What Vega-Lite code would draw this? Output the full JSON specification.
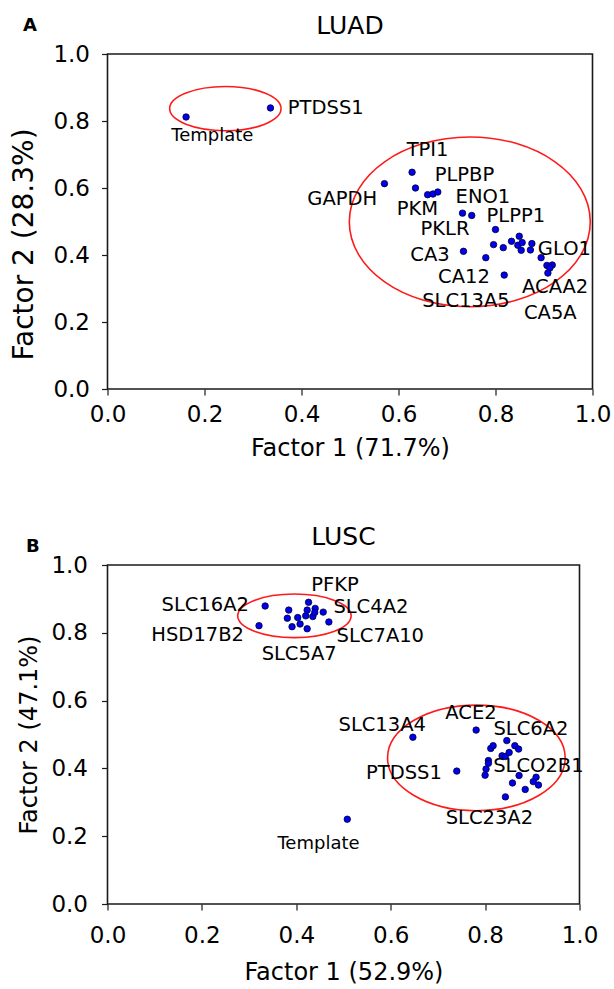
{
  "$schema": "https://vega.github.io/schema/vega-lite/v6.json",
  "padding": {"left": 9.5, "top": 13, "right": 5, "bottom": 0},
  "background": "white",
  "config": {
    "font": "DejaVu Sans",
    "view": {"stroke": "#1a1a1a", "strokeWidth": 1.6},
    "axis": {
      "domain": false, "grid": false,
      "tickColor": "#1a1a1a", "tickSize": 6, "tickWidth": 1.2,
      "labelColor": "#000", "titleColor": "#000",
      "labelFont": "DejaVu Sans", "titleFont": "DejaVu Sans",
      "labelFontSize": 23, "titleFontWeight": "normal",
      "labelFlush": false, "labelOverlap": false
    },
    "title": {"font": "DejaVu Sans", "fontWeight": "normal", "color": "#000"}
  },
  "bounds": "flush",
  "spacing": 511,
  "vconcat": [
    {
      "title": {"text": "A", "anchor": "start", "frame": "bounds", "fontWeight": "bold", "fontSize": 18, "offset": -22, "dx": 13},
      "vconcat": [
        {
          "width": 485,
          "height": 335,
          "title": {"text": "LUAD", "fontSize": 25, "offset": 4, "frame": "group", "anchor": "middle"},
          "encoding": {
            "x": {"field": "x", "type": "quantitative",
                  "scale": {"domain": [0, 1], "nice": false, "zero": false},
                  "axis": {"title": "Factor 1 (71.7%)", "titleFontSize": 24, "values": [0, 0.2, 0.4, 0.6, 0.8, 1], "format": ".1f", "labelPadding": 8, "titlePadding": 10}},
            "y": {"field": "y", "type": "quantitative",
                  "scale": {"domain": [0, 1], "nice": false, "zero": false},
                  "axis": {"title": "Factor 2 (28.3%)", "titleFontSize": 28, "values": [0, 0.2, 0.4, 0.6, 0.8, 1], "format": ".1f", "labelPadding": 12, "titlePadding": 14, "titleY": 190}}
          },
          "layer": [
            {
              "data": {"values": [{"x": 0.243, "y": 0.837}]},
              "mark": {"type": "point", "shape": "M-1,0C-1,-0.2193,-0.5523,-0.397,0,-0.397C0.5523,-0.397,1,-0.2193,1,0C1,0.2193,0.5523,0.397,0,0.397C-0.5523,0.397,-1,0.2193,-1,0Z", "size": 12410, "filled": false, "stroke": "#ff1a1a", "strokeWidth": 1.6, "opacity": 1}
            },
            {
              "data": {"values": [{"x": 0.747, "y": 0.499}]},
              "mark": {"type": "point", "shape": "M-1,0C-1,-0.3891,-0.5523,-0.7046,0,-0.7046C0.5523,-0.7046,1,-0.3891,1,0C1,0.3891,0.5523,0.7046,0,0.7046C-0.5523,0.7046,-1,0.3891,-1,0Z", "size": 58081, "filled": false, "stroke": "#ff1a1a", "strokeWidth": 1.6, "opacity": 1}
            },
            {
              "data": {"values": [
                {"x": 0.162, "y": 0.812}, {"x": 0.336, "y": 0.839},
                {"x": 0.571, "y": 0.613}, {"x": 0.628, "y": 0.647}, {"x": 0.635, "y": 0.600},
                {"x": 0.660, "y": 0.580}, {"x": 0.671, "y": 0.582}, {"x": 0.681, "y": 0.588},
                {"x": 0.732, "y": 0.525}, {"x": 0.751, "y": 0.518}, {"x": 0.800, "y": 0.476},
                {"x": 0.734, "y": 0.411}, {"x": 0.780, "y": 0.392}, {"x": 0.796, "y": 0.431},
                {"x": 0.816, "y": 0.422}, {"x": 0.818, "y": 0.340}, {"x": 0.833, "y": 0.441},
                {"x": 0.849, "y": 0.456}, {"x": 0.846, "y": 0.429}, {"x": 0.853, "y": 0.414},
                {"x": 0.855, "y": 0.437}, {"x": 0.872, "y": 0.415}, {"x": 0.875, "y": 0.434},
                {"x": 0.894, "y": 0.392}, {"x": 0.906, "y": 0.369}, {"x": 0.917, "y": 0.370},
                {"x": 0.912, "y": 0.361}, {"x": 0.908, "y": 0.346}
              ]},
              "mark": {"type": "circle", "size": 42, "fill": "#0000ee", "stroke": "#000033", "strokeWidth": 0.8, "opacity": 1}
            },
            {
              "data": {"values": [
                {"label": "PTDSS1", "x": 0.45, "y": 0.839},
                {"label": "Template", "x": 0.216, "y": 0.756},
                {"label": "TPI1", "x": 0.66, "y": 0.713},
                {"label": "GAPDH", "x": 0.484, "y": 0.567},
                {"label": "PLPBP", "x": 0.736, "y": 0.638},
                {"label": "ENO1", "x": 0.774, "y": 0.574},
                {"label": "PKM", "x": 0.639, "y": 0.536},
                {"label": "PLPP1", "x": 0.842, "y": 0.516},
                {"label": "PKLR", "x": 0.696, "y": 0.479},
                {"label": "CA3", "x": 0.665, "y": 0.400},
                {"label": "GLO1", "x": 0.942, "y": 0.419},
                {"label": "CA12", "x": 0.735, "y": 0.335},
                {"label": "ACAA2", "x": 0.923, "y": 0.304},
                {"label": "SLC13A5", "x": 0.739, "y": 0.262},
                {"label": "CA5A", "x": 0.913, "y": 0.226}
              ]},
              "mark": {"type": "text", "align": "center", "baseline": "middle", "color": "#000"},
              "encoding": {
                "text": {"field": "label"},
                "size": {"condition": {"test": "datum.label === 'Template'", "value": 18}, "value": 19.5}
              }
            }
          ]
        }
      ]
    },
    {
      "title": {"text": "B", "anchor": "start", "frame": "bounds", "fontWeight": "bold", "fontSize": 18, "offset": -32, "dx": 9},
      "vconcat": [
        {
          "width": 472,
          "height": 339,
          "title": {"text": "LUSC", "fontSize": 25, "offset": 4, "frame": "group", "anchor": "middle"},
          "encoding": {
            "x": {"field": "x", "type": "quantitative",
                  "scale": {"domain": [0, 1], "nice": false, "zero": false},
                  "axis": {"title": "Factor 1 (52.9%)", "titleFontSize": 24, "values": [0, 0.2, 0.4, 0.6, 0.8, 1], "format": ".1f", "labelPadding": 14.5, "titlePadding": 12.5}},
            "y": {"field": "y", "type": "quantitative",
                  "scale": {"domain": [0, 1], "nice": false, "zero": false},
                  "axis": {"title": "Factor 2 (47.1%)", "titleFontSize": 24, "values": [0, 0.2, 0.4, 0.6, 0.8, 1], "format": ".1f", "labelPadding": 14, "titlePadding": 9}}
          },
          "layer": [
            {
              "data": {"values": [{"x": 0.396, "y": 0.850}]},
              "mark": {"type": "point", "shape": "M-1,0C-1,-0.2124,-0.5523,-0.3845,0,-0.3845C0.5523,-0.3845,1,-0.2124,1,0C1,0.2124,0.5523,0.3845,0,0.3845C-0.5523,0.3845,-1,0.2124,-1,0Z", "size": 12860, "filled": false, "stroke": "#ff1a1a", "strokeWidth": 1.6, "opacity": 1}
            },
            {
              "data": {"values": [{"x": 0.7815, "y": 0.431}]},
              "mark": {"type": "point", "shape": "M-1,0C-1,-0.3284,-0.5523,-0.5946,0,-0.5946C0.5523,-0.5946,1,-0.3284,1,0C1,0.3284,0.5523,0.5946,0,0.5946C-0.5523,0.5946,-1,0.3284,-1,0Z", "size": 31542, "filled": false, "stroke": "#ff1a1a", "strokeWidth": 1.6, "opacity": 1}
            },
            {
              "data": {"values": [
                {"x": 0.508, "y": 0.250},
                {"x": 0.334, "y": 0.879}, {"x": 0.321, "y": 0.821},
                {"x": 0.384, "y": 0.867}, {"x": 0.381, "y": 0.843}, {"x": 0.391, "y": 0.818},
                {"x": 0.403, "y": 0.845}, {"x": 0.408, "y": 0.826}, {"x": 0.420, "y": 0.850},
                {"x": 0.423, "y": 0.812}, {"x": 0.426, "y": 0.890}, {"x": 0.423, "y": 0.867},
                {"x": 0.435, "y": 0.848}, {"x": 0.440, "y": 0.872}, {"x": 0.439, "y": 0.860},
                {"x": 0.457, "y": 0.861}, {"x": 0.469, "y": 0.832},
                {"x": 0.647, "y": 0.492}, {"x": 0.781, "y": 0.513},
                {"x": 0.812, "y": 0.459}, {"x": 0.817, "y": 0.467}, {"x": 0.846, "y": 0.482},
                {"x": 0.863, "y": 0.467}, {"x": 0.871, "y": 0.457}, {"x": 0.836, "y": 0.437},
                {"x": 0.843, "y": 0.435}, {"x": 0.851, "y": 0.447}, {"x": 0.807, "y": 0.423},
                {"x": 0.807, "y": 0.415}, {"x": 0.802, "y": 0.398}, {"x": 0.800, "y": 0.380},
                {"x": 0.740, "y": 0.392}, {"x": 0.872, "y": 0.379}, {"x": 0.858, "y": 0.357},
                {"x": 0.885, "y": 0.338}, {"x": 0.908, "y": 0.374}, {"x": 0.902, "y": 0.361},
                {"x": 0.913, "y": 0.351}, {"x": 0.843, "y": 0.316}
              ]},
              "mark": {"type": "circle", "size": 42, "fill": "#0000ee", "stroke": "#000033", "strokeWidth": 0.8, "opacity": 1}
            },
            {
              "data": {"values": [
                {"label": "PFKP", "x": 0.482, "y": 0.940},
                {"label": "SLC16A2", "x": 0.207, "y": 0.881},
                {"label": "SLC4A2", "x": 0.558, "y": 0.876},
                {"label": "HSD17B2", "x": 0.191, "y": 0.793},
                {"label": "SLC7A10", "x": 0.578, "y": 0.791},
                {"label": "SLC5A7", "x": 0.406, "y": 0.738},
                {"label": "SLC13A4", "x": 0.582, "y": 0.528},
                {"label": "ACE2", "x": 0.770, "y": 0.564},
                {"label": "SLC6A2", "x": 0.897, "y": 0.517},
                {"label": "SLCO2B1", "x": 0.913, "y": 0.407},
                {"label": "PTDSS1", "x": 0.628, "y": 0.386},
                {"label": "SLC23A2", "x": 0.809, "y": 0.254},
                {"label": "Template", "x": 0.447, "y": 0.177}
              ]},
              "mark": {"type": "text", "align": "center", "baseline": "middle", "color": "#000"},
              "encoding": {
                "text": {"field": "label"},
                "size": {"condition": {"test": "datum.label === 'Template'", "value": 18}, "value": 19.5}
              }
            }
          ]
        }
      ]
    }
  ]
}
